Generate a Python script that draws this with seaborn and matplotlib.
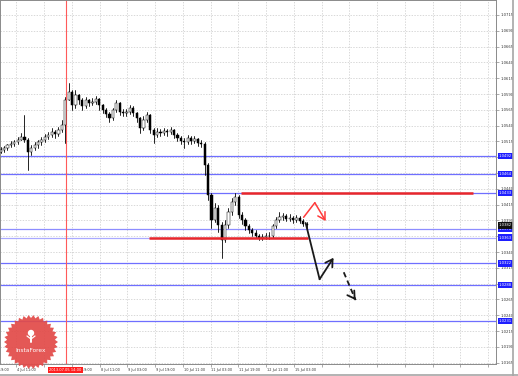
import numpy as np
import pandas as pd
import matplotlib
matplotlib.use("Agg")
import matplotlib.pyplot as plt
import matplotlib.transforms as mtrans
from matplotlib.patches import Polygon, Circle
import seaborn as sns

# ---------------- data (2-hour candles, USD/CAD-like) ----------------
first_open = 1.0498
close = [1.0501, 1.0505, 1.0509, 1.0511, 1.0514, 1.0517, 1.0522, 1.0517, 1.0498, 1.0505,
         1.0509, 1.0514, 1.0517, 1.0522, 1.0525, 1.0530, 1.0527, 1.0533, 1.0541, 1.0581,
         1.0593, 1.0573, 1.0588, 1.0581, 1.0571, 1.0581, 1.0576, 1.0577, 1.0582, 1.0573,
         1.0565, 1.0558, 1.0552, 1.0565, 1.0576, 1.0562, 1.0560, 1.0562, 1.0568, 1.0560,
         1.0552, 1.0536, 1.0549, 1.0557, 1.0533, 1.0525, 1.0530, 1.0528, 1.0531, 1.0530,
         1.0533, 1.0525, 1.0520, 1.0516, 1.0514, 1.0520, 1.0516, 1.0519, 1.0513, 1.0511,
         1.0478, 1.0430, 1.0391, 1.0410, 1.0383, 1.0359, 1.0383, 1.0403, 1.0419, 1.0427,
         1.0399, 1.0391, 1.0381, 1.0375, 1.0370, 1.0365, 1.0362, 1.0364, 1.0365, 1.0365,
         1.0381, 1.0391, 1.0395, 1.0397, 1.0392, 1.0394, 1.0391, 1.0394, 1.0389, 1.0384,
         1.0382]
high = [1.0506, 1.0508, 1.0511, 1.0516, 1.0517, 1.0522, 1.0528, 1.0557, 1.0520, 1.0509,
        1.0514, 1.0517, 1.0522, 1.0527, 1.0530, 1.0536, 1.0533, 1.0538, 1.0549, 1.0585,
        1.0607, 1.0596, 1.0596, 1.0590, 1.0584, 1.0585, 1.0582, 1.0584, 1.0587, 1.0584,
        1.0574, 1.0568, 1.0562, 1.0568, 1.0581, 1.0577, 1.0566, 1.0566, 1.0573, 1.0571,
        1.0562, 1.0554, 1.0555, 1.0562, 1.0558, 1.0536, 1.0536, 1.0535, 1.0536, 1.0535,
        1.0538, 1.0535, 1.0528, 1.0524, 1.0520, 1.0525, 1.0524, 1.0524, 1.0520, 1.0517,
        1.0514, 1.0481, 1.0433, 1.0418, 1.0414, 1.0388, 1.0391, 1.0410, 1.0425, 1.0433,
        1.0430, 1.0403, 1.0394, 1.0384, 1.0378, 1.0375, 1.0369, 1.0369, 1.0370, 1.0372,
        1.0384, 1.0395, 1.0403, 1.0402, 1.0400, 1.0400, 1.0397, 1.0399, 1.0397, 1.0392,
        1.0388]
low = [1.0497, 1.0498, 1.0501, 1.0506, 1.0508, 1.0511, 1.0517, 1.0514, 1.0470, 1.0494,
       1.0501, 1.0505, 1.0509, 1.0514, 1.0519, 1.0522, 1.0520, 1.0524, 1.0530, 1.0513,
       1.0581, 1.0565, 1.0568, 1.0574, 1.0565, 1.0568, 1.0571, 1.0573, 1.0574, 1.0565,
       1.0560, 1.0554, 1.0546, 1.0549, 1.0562, 1.0557, 1.0555, 1.0555, 1.0558, 1.0555,
       1.0546, 1.0528, 1.0533, 1.0546, 1.0528, 1.0513, 1.0522, 1.0524, 1.0525, 1.0524,
       1.0527, 1.0520, 1.0516, 1.0511, 1.0505, 1.0511, 1.0511, 1.0513, 1.0508, 1.0506,
       1.0462, 1.0422, 1.0378, 1.0388, 1.0372, 1.0331, 1.0356, 1.0378, 1.0399, 1.0414,
       1.0394, 1.0384, 1.0375, 1.0370, 1.0365, 1.0362, 1.0359, 1.0359, 1.0361, 1.0361,
       1.0362, 1.0378, 1.0388, 1.0391, 1.0389, 1.0389, 1.0386, 1.0388, 1.0386, 1.0381,
       1.0378]

x_labels = ["3 Jul 19:00", "4 Jul 11:00", "5 Jul 03:00", "5 Jul 19:00", "8 Jul 11:00",
            "9 Jul 03:00", "9 Jul 19:00", "10 Jul 11:00", "11 Jul 03:00", "11 Jul 19:00",
            "12 Jul 11:00", "15 Jul 03:00"]
y_tick_values = [1.0165, 1.0190, 1.0215, 1.0240, 1.0265, 1.0290, 1.0315, 1.0340, 1.0365,
                 1.0390, 1.0415, 1.0440, 1.0465, 1.0490, 1.0515, 1.0540, 1.0565, 1.0590,
                 1.0615, 1.0640, 1.0665, 1.0690, 1.0715, 1.0740]
level_prices = [1.0492, 1.0464, 1.0433, 1.0376, 1.0363, 1.0322, 1.0288, 1.0231]
level_labels = ["1.0492", "1.0464", "1.0433", "1.0376", "1.0363", "1.0322", "1.0288", "1.0231"]
current_price = 1.0382
current_label = "1.0382"
marker_label = "2013.07.05 14:00"
marker_k = 19.1
resistance = (1.0433, 70.6, 138.8)   # price, from, to
support = (1.0363, 43.5, 90.3)
red_path_k = [89.1, 92.4, 95.6]
red_path_p = [1.0395, 1.0418, 1.0389]
blk_path_k = [89.7, 93.8, 97.9]
blk_path_p = [1.0386, 1.0297, 1.0331]
dash_path_k = [100.9, 104.4]
dash_path_p = [1.0308, 1.0264]

# ---------------- figure ----------------
sns.set_style("white")
plt.rcParams["font.family"] = ["DejaVu Sans"]

W, H = 518, 376
fig = plt.figure(figsize=(W / 100, H / 100), dpi=100)
fig.patch.set_facecolor("white")
ax = fig.add_axes([0, 12 / H, 496 / W, 364 / H])

k = np.arange(len(close))
opens = np.array([first_open] + close[:-1])
closes = np.array(close)
df = pd.DataFrame({"k": k, "open": opens, "close": closes, "high": high, "low": low})

# grid
tick_k = np.arange(-3.53, 150, 8.16)
ax.set_xticks(tick_k)
ax.set_yticks(y_tick_values)
ax.grid(True, color="#c9c9c9", lw=0.5, ls=(0, (2, 2)))
ax.set_axisbelow(True)

# level lines
lvl_colors = ["#6f6fff", "#6f6fff", "#6f6fff", "#8d8dff", "#a9a9ff", "#6f6fff", "#6f6fff", "#6f6fff"]
for p, c in zip(level_prices, lvl_colors):
    ax.axhline(p, color=c, lw=0.9, zorder=1)

# red marker line
ax.axvline(marker_k, color="#ff5a5a", lw=0.8, zorder=1)

# wicks through seaborn
wick = pd.DataFrame({
    "k": np.repeat(k, 2),
    "price": np.column_stack([df["low"], df["high"]]).ravel(),
    "unit": np.repeat(k, 2),
})
sns.lineplot(data=wick, x="k", y="price", units="unit", estimator=None, sort=False,
             color="black", lw=0.6, ax=ax, legend=False, zorder=3)

# bodies
body_bottom = np.minimum(opens, closes)
body_h = np.maximum(np.abs(closes - opens), 0.00003)
colors = np.where(closes >= opens, "white", "black")
ax.bar(k, body_h, bottom=body_bottom, width=0.62, color=colors, edgecolor="black",
       linewidth=0.35, zorder=4)

# red support / resistance
ax.plot([resistance[1], resistance[2]], [resistance[0]] * 2, color="#e8262b", lw=1.8, zorder=5,
        solid_capstyle="butt")
ax.plot([support[1], support[2]], [support[0]] * 2, color="#e8262b", lw=1.8, zorder=5,
        solid_capstyle="butt")

# arrows
ax.plot(red_path_k[:2], red_path_p[:2], color="#ff3b3b", lw=1.1, zorder=6)
ax.annotate("", xy=(red_path_k[2], red_path_p[2]), xytext=(red_path_k[1], red_path_p[1]),
            arrowprops=dict(arrowstyle="->,head_length=0.5,head_width=0.3", color="#ff3b3b",
                            lw=1.1, shrinkA=0, shrinkB=0), zorder=6)
ax.plot(blk_path_k[:2], blk_path_p[:2], color="#1a1a1a", lw=1.3, zorder=6)
ax.annotate("", xy=(blk_path_k[2], blk_path_p[2]), xytext=(blk_path_k[1], blk_path_p[1]),
            arrowprops=dict(arrowstyle="->,head_length=0.5,head_width=0.3", color="#1a1a1a",
                            lw=1.3, shrinkA=0, shrinkB=0), zorder=6)
ax.plot(dash_path_k, dash_path_p, color="#1a1a1a", lw=1.3, ls=(0, (3, 2)), zorder=6)
ax.annotate("", xy=(dash_path_k[1], dash_path_p[1]),
            xytext=(dash_path_k[1] - 0.5, dash_path_p[1] + 0.0004),
            arrowprops=dict(arrowstyle="->,head_length=0.5,head_width=0.3", color="#1a1a1a",
                            lw=1.3, shrinkA=0, shrinkB=0), zorder=6)

# limits
ax.set_xlim(-0.2, 496 / 3.4 - 0.2)
ax.set_ylim(1.01629, 1.07387)

# axes styling
for s in ax.spines.values():
    s.set_color("#8a8a8a")
    s.set_linewidth(0.7)
ax.yaxis.tick_right()
ax.tick_params(axis="y", which="both", right=True, length=2, width=0.5, color="#8a8a8a",
               labelsize=2.7, labelcolor="#333333", pad=1.2)
# tick labels that sit under a price box are not visible in the terminal
ax.set_yticklabels([("" if min(abs(v - p) for p in level_prices) < 0.0003 else f"{v:.4f}")
                    for v in y_tick_values])
ax.tick_params(axis="x", which="both", bottom=True, length=2, width=0.5, color="#8a8a8a",
               labelbottom=False)
ax.set_xlabel("")
ax.set_ylabel("")

xb = mtrans.blended_transform_factory(ax.transData, ax.transAxes)
for pos, lab in zip(tick_k, x_labels):
    # the label lying under the time-marker box is hidden in the terminal
    if marker_k - 8 < pos < marker_k - 2:
        continue
    ax.text(pos + 0.25, -0.012, lab, transform=xb, ha="left", va="top", fontsize=2.5,
            color="#333333", clip_on=False)

# time marker box
ax.text(marker_k, -0.011, marker_label, transform=xb, ha="center", va="top", fontsize=2.6,
        color="white", clip_on=False, zorder=10,
        bbox=dict(boxstyle="square,pad=0.35", fc="#ff1f1f", ec="none"))

# price boxes on the right
yb = mtrans.blended_transform_factory(ax.transAxes, ax.transData)
for p, lab in zip(level_prices, level_labels):
    ax.text(1.006, p, lab, transform=yb, ha="left", va="center", fontsize=2.7, color="white",
            clip_on=False, zorder=10,
            bbox=dict(boxstyle="square,pad=0.3", fc="#1e1eff", ec="none"))
ax.text(1.006, current_price, current_label, transform=yb, ha="left", va="center", fontsize=2.7,
        color="white", clip_on=False, zorder=11,
        bbox=dict(boxstyle="square,pad=0.3", fc="#111111", ec="none"))

# overlay: logo and window frame
ov = fig.add_axes([0, 0, 1, 1])
ov.set_xlim(0, W)
ov.set_ylim(H, 0)
ov.axis("off")
ov.patch.set_alpha(0)
n = 34
ang = np.linspace(0, 2 * np.pi, 2 * n, endpoint=False)
rad = np.where(np.arange(2 * n) % 2 == 0, 27.0, 24.0)
cx, cy = 31, 342
star = Polygon(np.column_stack([cx + rad * np.cos(ang), cy + rad * np.sin(ang)]),
               closed=True, fc="#e24a48", ec="none", alpha=0.92, zorder=1)
ov.add_patch(star)
ov.add_patch(Circle((cx, 333), 3.2, fc="white", ec="none", zorder=2))
ov.plot([cx, cx], [334, 342], color="white", lw=1.4, zorder=2)
ov.plot([cx - 4, cx, cx + 4], [336, 339, 336], color="white", lw=0.9, zorder=2)
ov.text(cx, 351, "InstaForex", ha="center", va="center", fontsize=4.2, color="white", zorder=3)
ov.plot([513, 513], [0, H], color="#a6a6a6", lw=1.2)
ov.plot([0, W], [375, 375], color="#a6a6a6", lw=1.2)

fig.savefig("out.png", dpi=100, facecolor="white")
